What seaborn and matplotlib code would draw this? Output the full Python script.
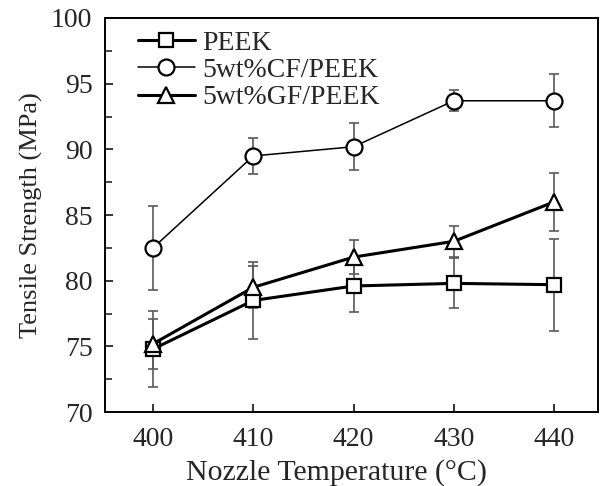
import numpy as np
import pandas as pd
import seaborn as sns
import matplotlib
matplotlib.use("Agg")
import matplotlib.pyplot as plt
from matplotlib.ticker import MultipleLocator

# Nozzle temperature (°C)
temperature = [400, 410, 420, 430, 440]

# Mean tensile strength (MPa) and standard deviations
peek = [74.8, 78.5, 79.6, 79.8, 79.7]
peek_err = [2.9, 2.9, 2.0, 1.9, 3.5]

cf_peek = [82.5, 89.5, 90.2, 93.7, 93.7]
cf_peek_err = [3.2, 1.4, 1.8, 0.8, 2.0]

gf_peek = [75.2, 79.5, 81.8, 83.0, 86.0]
gf_peek_err = [1.9, 1.6, 1.3, 1.2, 2.2]

labels = ["PEEK", "5wt%CF/PEEK", "5wt%GF/PEEK"]

sns.set_style("ticks")
plt.rcParams["font.family"] = ["Liberation Serif", "DejaVu Serif"]

fig = plt.figure(figsize=(6.03, 4.86), dpi=100)
ax = fig.add_axes([0.174, 0.152, 0.818, 0.811])

series = [
    (peek, peek_err, labels[0], "s", 2.2, 10.5),
    (cf_peek, cf_peek_err, labels[1], "o", 1.1, 11.5),
    (gf_peek, gf_peek_err, labels[2], "^", 2.2, 11.5),
]

for vals, errs, lab, mk, lw, ms in series:
    ax.errorbar(temperature, vals, yerr=errs, fmt="none", ecolor="#5a5a5a",
                elinewidth=1.2, capsize=3.5, capthick=1.2, zorder=2)
    sns.lineplot(x=temperature, y=vals, ax=ax, color="black", linewidth=lw,
                 marker=mk, markersize=ms, markerfacecolor="white",
                 markeredgecolor="black", markeredgewidth=1.6,
                 label=lab, zorder=3)

ax.set_xlim(395.2, 444.4)
ax.set_ylim(70, 100)
ax.set_xticks(temperature)
ax.yaxis.set_major_locator(MultipleLocator(5))
ax.yaxis.set_minor_locator(MultipleLocator(2.5))

ax.tick_params(axis="both", which="major", direction="in", length=6, width=1.3,
               labelsize=20)
ax.tick_params(axis="x", which="major", pad=11)
ax.tick_params(axis="y", which="major", pad=9)
ax.tick_params(axis="y", which="minor", direction="in", length=5, width=1.2)
ax.tick_params(top=False, right=False)

for side in ax.spines.values():
    side.set_visible(True)
    side.set_linewidth(1.4)
    side.set_color("black")

ax.set_xlabel("Nozzle Temperature (°C)", fontsize=21.5, labelpad=5)
ax.xaxis.set_label_coords(0.47, -0.118)
ax.set_ylabel("Tensile Strength (MPa)", fontsize=19, labelpad=6)

leg = ax.legend(loc="upper left", bbox_to_anchor=(0.067, 0.968), frameon=False,
                fontsize=20, handlelength=2.05, handletextpad=0.25,
                labelspacing=0.06, borderaxespad=0, borderpad=0)

fig.savefig("out.png", dpi=100, facecolor="white")
